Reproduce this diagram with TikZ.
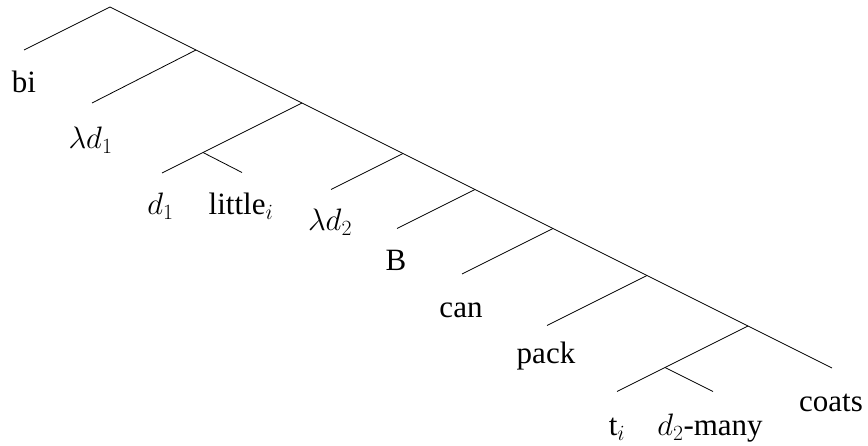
\RequirePackage{fix-cm}
\documentclass[tikz,border=0pt]{standalone}
\usepackage{fontspec}
\setmainfont{Liberation Serif}
\begin{document}
\begin{tikzpicture}[x=1pt,y=-1pt,
  edge/.style={draw=black,line width=0.8pt},
  leaf/.style={anchor=base,inner sep=0pt,font=\fontsize{31}{36}\selectfont}]
\useasboundingbox (0,0) rectangle (868,446);
% spine points
\coordinate (r) at (110,7);
\coordinate (n1) at (196,50);
\coordinate (n2) at (302,103);
\coordinate (n3) at (403,153.5);
\coordinate (n4) at (475,189.5);
\coordinate (n5) at (553,228.5);
\coordinate (n6) at (647,275.5);
\coordinate (n7) at (748,326);
\coordinate (ecoats) at (832,368);
% branch points
\coordinate (ebi) at (24,50);
\coordinate (eld1) at (92,103);
\coordinate (m1) at (203,152.5);
\coordinate (ed1) at (162,173);
\coordinate (elittle) at (242,172.5);
\coordinate (eld2) at (331,189.5);
\coordinate (eB) at (397,228.5);
\coordinate (ecan) at (462,274);
\coordinate (epack) at (547,325.5);
\coordinate (m2) at (665,367.5);
\coordinate (eti) at (617,391.5);
\coordinate (emany) at (713,391.5);
% edges
\draw[edge] (ebi) -- (r) -- (n1) -- (n2) -- (n3) -- (n4) -- (n5) -- (n6) -- (n7) -- (ecoats);
\draw[edge] (n1) -- (eld1);
\draw[edge] (n2) -- (m1) -- (ed1);
\draw[edge] (m1) -- (elittle);
\draw[edge] (n3) -- (eld2);
\draw[edge] (n4) -- (eB);
\draw[edge] (n5) -- (ecan);
\draw[edge] (n6) -- (epack);
\draw[edge] (n7) -- (m2) -- (eti);
\draw[edge] (m2) -- (emany);
% labels
\node[leaf] (bi) at (24,93) {bi};
\node[leaf] (ld1) at (90.5,149) {$\lambda d_1$};
\node[leaf] (d1) at (160.5,215) {$d_1$};
\node[leaf] (little) at (241,215) {little$_i$};
\node[leaf] (ld2) at (330,231) {$\lambda d_2$};
\node[leaf] (B) at (396,271) {B};
\node[leaf] (can) at (461,318) {can};
\node[leaf] (pack) at (546,364) {pack};
\node[leaf] (ti) at (617,435.5) {t$_i$};
\node[leaf] (many) at (710,435.5) {$d_2$-many};
\node[leaf] (coats) at (831,411) {coats};
\end{tikzpicture}
\end{document}
